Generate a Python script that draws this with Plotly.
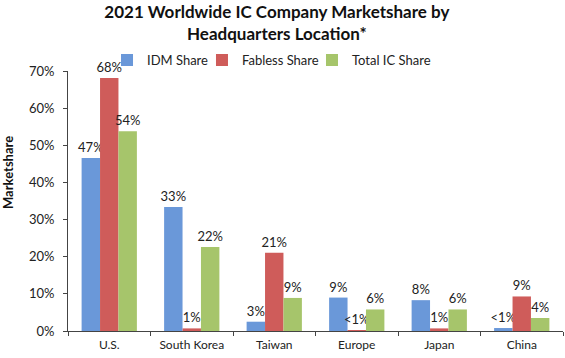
import plotly.graph_objects as go

categories = ["U.S.", "South Korea", "Taiwan", "Europe", "Japan", "China"]
idm_share = [46.6, 33.4, 2.5, 9.0, 8.3, 0.8]
fabless_share = [68.1, 0.7, 21.1, 0.1, 0.7, 9.3]
total_share = [53.8, 22.6, 8.9, 5.8, 5.8, 3.5]
idm_labels = ["47%", "33%", "3%", "9%", "8%", "<1%"]
fabless_labels = ["68%", "1%", "21%", "<1%", "1%", "9%"]
total_labels = ["54%", "22%", "9%", "6%", "6%", "4%"]
y_ticks = [0, 10, 20, 30, 40, 50, 60, 70]
y_tick_text = [f"{v}%" for v in y_ticks]

FONT = "Lato, Open Sans, sans-serif"

series = [
    ("IDM Share", idm_share, idm_labels, "#6A98D9", "legend", 0.1894),
    ("Fabless Share", fabless_share, fabless_labels, "#CF5C5A", "legend2", 0.3575),
    ("Total IC Share", total_share, total_labels, "#A6C56B", "legend3", 0.5522),
]

fig = go.Figure()
legend_layouts = {}
for name, vals, labels, color, leg, lx in series:
    fig.add_trace(go.Bar(
        name=name, x=categories, y=vals, text=labels,
        textposition="outside", cliponaxis=False, constraintext="none",
        textfont=dict(family=FONT, size=13, color="#222222"),
        marker=dict(color=color, line=dict(width=0)),
        legend=leg, showlegend=True,
    ))
    legend_layouts[leg] = dict(
        orientation="h", x=lx, xanchor="left", xref="container",
        y=0.832, yanchor="middle", yref="container",
        font=dict(family=FONT, size=13, color="#222222"),
        itemwidth=30, bgcolor="rgba(0,0,0,0)",
    )

fig.update_layout(
    width=565, height=358,
    margin=dict(l=68, r=2, t=71, b=27, autoexpand=False),
    paper_bgcolor="white", plot_bgcolor="white",
    barmode="group", bargap=0.33, bargroupgap=0,
    title=dict(
        text="2021 Worldwide IC Company Marketshare by<br>Headquarters Location*",
        x=0.49, xanchor="center", xref="container",
        y=0.95, yanchor="middle", yref="container",
        font=dict(family=FONT, size=17, color="#111111", weight="bold"),
    ),
    showlegend=True,
    xaxis=dict(
        showline=True, linecolor="#444444", linewidth=1,
        ticks="outside", tickson="boundaries", ticklen=4, tickcolor="#444444",
        tickfont=dict(family=FONT, size=12, color="#222222"),
        showgrid=False, automargin=False, ticklabelstandoff=3,
    ),
    yaxis=dict(
        range=[0, 70], tickmode="array", tickvals=y_ticks, ticktext=y_tick_text,
        showline=True, linecolor="#444444", linewidth=1,
        ticks="outside", ticklen=4, tickcolor="#444444",
        tickfont=dict(family=FONT, size=13, color="#222222"),
        showgrid=False, zeroline=False, automargin=False, ticklabelstandoff=6,
    ),
    annotations=[dict(
        text="<b>Marketshare</b>", textangle=-90, showarrow=False,
        xref="paper", yref="paper", x=-0.12, y=0.61,
        xanchor="center", yanchor="middle",
        font=dict(family=FONT, size=13, color="#111111"),
    )],
    **legend_layouts,
)

fig.write_html("out.html", config={"displayModeBar": False},
               post_script="document.body.style.margin='0';")
